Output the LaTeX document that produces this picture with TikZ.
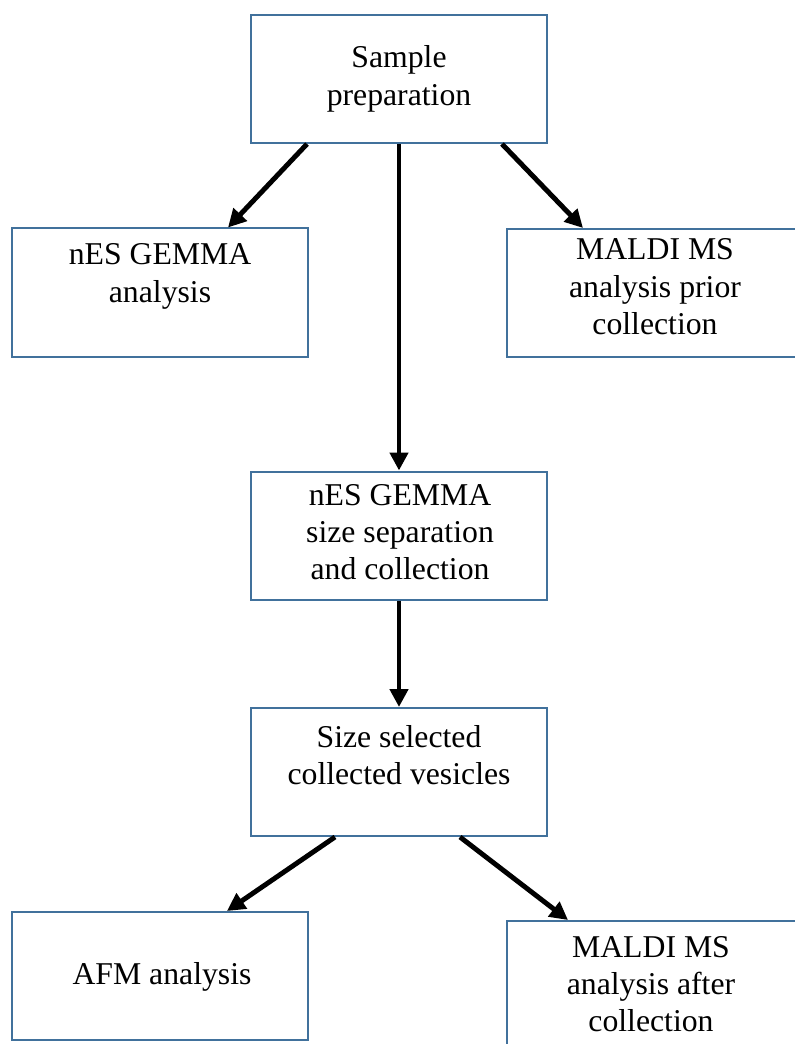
\documentclass[tikz,border=0pt]{standalone}
\usepackage{fontspec}
\setmainfont{Liberation Serif}
\usetikzlibrary{arrows.meta,calc}
\definecolor{boxblue}{RGB}{65,113,156}
\newcommand{\mylines}[1]{\begin{tabular}[t]{@{}c@{}}#1\end{tabular}}
\begin{document}
\begin{tikzpicture}[x=0.75pt,y=-0.75pt,
  box/.style={draw=boxblue,line width=1.5pt,fill=white,inner sep=0pt,minimum width=222pt,minimum height=96pt},
  txt/.style={anchor=base,inner sep=0pt,font=\fontsize{23.8pt}{28.1pt}\selectfont},
  arr/.style={line width=3.7pt,-{Triangle[length=13.5pt,width=13.5pt]}}]
\useasboundingbox (0,0) rectangle (794,1044);
\fill[white] (0,0) rectangle (794,1044);
% boxes
\node[box] (sp) at (399,79) {};
\node[box] (ga) at (160,292.5) {};
\node[box] (mp) at (655,293) {};
\node[box] (ss) at (399,535.5) {};
\node[box] (sc) at (399,772) {};
\node[box] (afm) at (160,976) {};
\node[box] (ma) at (655,985) {};
% texts
\node[txt] (tsp) at (399,68) {\mylines{Sample\\preparation}};
\node[txt] (tga) at (160,265) {\mylines{nES GEMMA\\analysis}};
\node[txt] (tmp) at (655,260) {\mylines{MALDI MS\\analysis prior\\collection}};
\node[txt] (tss) at (400,505) {\mylines{nES GEMMA\\size separation\\and collection}};
\node[txt] (tsc) at (399,747) {\mylines{Size selected\\collected vesicles}};
\node[txt] (tafm) at (162,984) {\mylines{AFM analysis}};
\node[txt] (tma) at (651,957) {\mylines{MALDI MS\\analysis after\\collection}};
% arrows
\draw[arr] ($(sp.south)+(-92,0)$) -- ($(ga.north)+(68,0)$);
\draw[arr] ($(sp.south)+(103,0)$) -- ($(mp.north)+(-72,0)$);
\draw[arr] (sp.south) -- (ss.north);
\draw[arr] (ss.south) -- (sc.north);
\draw[arr] ($(sc.south)+(-64,0)$) -- ($(afm.north)+(67,0)$);
\draw[arr] ($(sc.south)+(61,0)$) -- ($(ma.north)+(-87,0)$);
\end{tikzpicture}
\end{document}
